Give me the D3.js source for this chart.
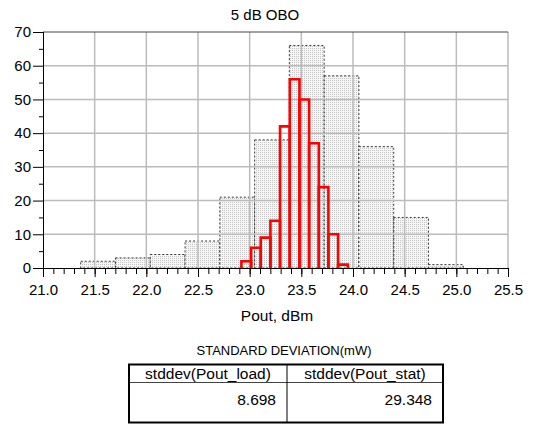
<!DOCTYPE html>
<html>
<head>
<meta charset="utf-8">
<script src="https://cdn.jsdelivr.net/npm/d3@7"></script>
<style>
  body { margin: 0; background: #fff; }
  text { font-family: "Liberation Sans", Arial, sans-serif; fill: #000; }
</style>
</head>
<body>
<div id="chart"></div>
<script>
// histogram bins
const statEdges = [21.365, 21.702, 22.038, 22.375, 22.711, 23.048, 23.384, 23.721, 24.057, 24.394, 24.730, 25.067]
const statCounts = [2, 3, 4, 8, 21, 38, 66, 57, 36, 15, 1]
const loadEdges = [22.920, 23.014, 23.107, 23.201, 23.294, 23.388, 23.482, 23.575, 23.669, 23.762, 23.856, 23.950]
const loadCounts = [2, 6, 9, 14, 42, 56, 50, 37, 24, 10, 1]

const xMajorTicks = [21.0, 21.5, 22.0, 22.5, 23.0, 23.5, 24.0, 24.5, 25.0, 25.5]
const yMajorTicks = [0, 10, 20, 30, 40, 50, 60, 70]

const tableHeaders = ["stddev(Pout_load)", "stddev(Pout_stat)"]
const tableValues = ["8.698", "29.348"]

const width = 533
const height = 425
// plot box (note: "top" is taken by window.top, so use pl/pr/pt/pb)
const pl = 43, pr = 508, pt = 32, pb = 268

const svg = d3.select("#chart").append("svg")
    .attr("width", width)
    .attr("height", height)

// stipple fill for the grey bars
const pat = svg.append("defs").append("pattern")
    .attr("id", "dots").attr("width", 2).attr("height", 2)
    .attr("patternUnits", "userSpaceOnUse")
pat.append("rect").attr("width", 2).attr("height", 2).attr("fill", "#f6f6f6")
pat.append("rect").attr("width", 1).attr("height", 1).attr("fill", "#c4c4c4")

const x = d3.scaleLinear().domain([21, 25.5]).range([pl, pr])
const y = d3.scaleLinear().domain([0, 70]).range([pb, pt])

const toBins = (edges, counts) => counts.map((c, i) => ({x0: edges[i], x1: edges[i + 1], n: c}))
const statBins = toBins(statEdges, statCounts)
const loadBins = toBins(loadEdges, loadCounts)

// grey bars (Pout_stat)
svg.append("g").selectAll("rect")
    .data(statBins)
    .join("rect")
    .attr("x", d => x(d.x0))
    .attr("y", d => y(d.n))
    .attr("width", d => x(d.x1) - x(d.x0))
    .attr("height", d => y(0) - y(d.n))
    .attr("fill", "url(#dots)")
    .attr("stroke", "#222")
    .attr("stroke-width", 0.9)
    .attr("stroke-dasharray", "2,2")

// grid lines drawn over the grey bars
const grid = svg.append("g").attr("stroke", "#bbbbbb").attr("stroke-width", 1.5)
grid.selectAll("line.v")
    .data(xMajorTicks.slice(1))
    .join("line")
    .attr("class", "v")
    .attr("x1", d => x(d)).attr("x2", d => x(d))
    .attr("y1", pt).attr("y2", pb)
grid.selectAll("line.h")
    .data(yMajorTicks.slice(1, -1))
    .join("line")
    .attr("class", "h")
    .attr("x1", pl).attr("x2", pr)
    .attr("y1", d => y(d)).attr("y2", d => y(d))

svg.append("line")
    .attr("x1", pl).attr("x2", pr)
    .attr("y1", y(70)).attr("y2", y(70))
    .attr("stroke", "#444").attr("stroke-width", 1)

// red bars (Pout_load), open at the bottom
svg.append("g").selectAll("path")
    .data(loadBins)
    .join("path")
    .attr("d", d => `M${x(d.x0)},${y(0)}V${y(d.n)}H${x(d.x1)}V${y(0)}`)
    .attr("fill", "none")
    .attr("stroke", "#ff0000")
    .attr("stroke-width", 2.6)

// axes
const xMinor = svg.append("g")
    .attr("transform", `translate(0,${pb})`)
    .call(d3.axisBottom(x).tickValues(d3.range(21, 25.55, 0.1)).tickSize(6).tickFormat(""))
xMinor.select(".domain").remove()

const xAxis = svg.append("g")
    .attr("transform", `translate(0,${pb})`)
    .call(d3.axisBottom(x).tickValues(xMajorTicks).tickSize(9).tickSizeOuter(0).tickFormat(d3.format(".1f")))
xAxis.selectAll("text").attr("font-size", 15).attr("y", 16).attr("dy", "0.71em")

const yMinor = svg.append("g")
    .attr("transform", `translate(${pl},0)`)
    .call(d3.axisLeft(y).tickValues([5, 15, 25, 35, 45, 55, 65]).tickSize(4).tickFormat(""))
yMinor.select(".domain").remove()

const yAxis = svg.append("g")
    .attr("transform", `translate(${pl},0)`)
    .call(d3.axisLeft(y).tickValues(yMajorTicks).tickSize(10).tickSizeOuter(0))
yAxis.selectAll("text").attr("font-size", 15).attr("x", -12)
yAxis.select(".domain").attr("d", `M0.5,${pt}V${pb + 9}`)

svg.selectAll(".tick line").attr("stroke", "#000")
svg.selectAll(".tick text").attr("font-family", "Liberation Sans, Arial, sans-serif")

// titles
svg.append("text").attr("x", 265).attr("y", 19.5).attr("text-anchor", "middle")
    .attr("font-size", 15).text("5 dB OBO")
svg.append("text").attr("x", 277).attr("y", 321).attr("text-anchor", "middle")
    .attr("font-size", 15.5).text("Pout, dBm")

// standard deviation table
svg.append("text").attr("x", 284).attr("y", 355).attr("text-anchor", "middle")
    .attr("font-size", 13).text("STANDARD DEVIATION(mW)")

const tx = [129, 287, 443]
const tTop = 364.5, tMid = 382.5, tBot = 422.5
svg.append("line").attr("x1", tx[0]).attr("x2", tx[2]).attr("y1", tMid).attr("y2", tMid)
    .attr("stroke", "#444").attr("stroke-width", 1)
svg.append("line").attr("x1", tx[1]).attr("x2", tx[1]).attr("y1", tTop).attr("y2", tBot)
    .attr("stroke", "#000").attr("stroke-width", 1)
svg.append("rect").attr("x", tx[0]).attr("y", tTop).attr("width", tx[2] - tx[0]).attr("height", tBot - tTop)
    .attr("fill", "none").attr("stroke", "#000").attr("stroke-width", 2)

tableHeaders.forEach((h, i) => {
    svg.append("text").attr("x", (tx[i] + tx[i + 1]) / 2).attr("y", 379)
        .attr("text-anchor", "middle").attr("font-size", 15.5).text(h)
    svg.append("text").attr("x", tx[i + 1] - 11).attr("y", 405)
        .attr("text-anchor", "end").attr("font-size", 15.5).text(tableValues[i])
})
</script>
</body>
</html>
